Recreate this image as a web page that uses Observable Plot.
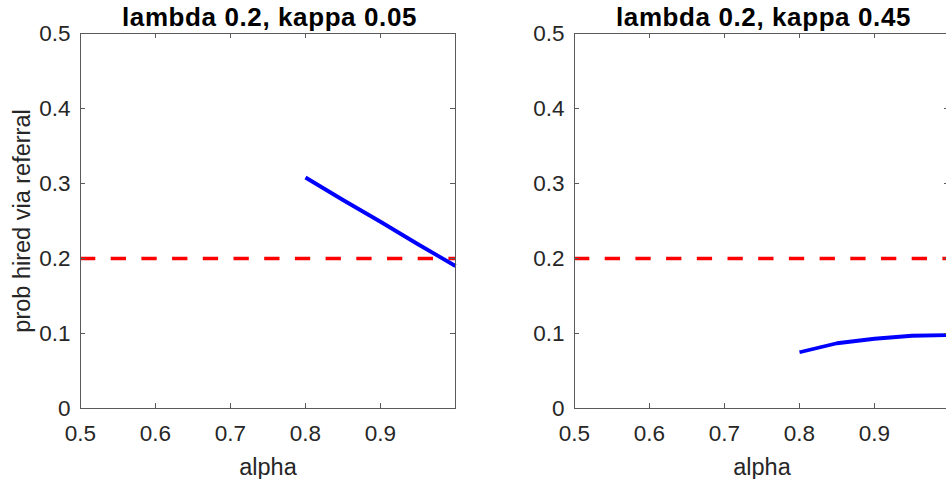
<!DOCTYPE html>
<html>
<head>
<meta charset="utf-8">
<script src="https://cdn.jsdelivr.net/npm/d3@7"></script>
<script src="https://cdn.jsdelivr.net/npm/@observablehq/plot@0.6"></script>
<style>
  html, body { margin: 0; padding: 0; background: #ffffff; overflow: hidden; }
  #wrap { position: relative; width: 946px; height: 479px; overflow: hidden; background: #ffffff; }
  #wrap svg { position: absolute; top: 0; }
</style>
</head>
<body>
<div id="wrap"></div>
<script>
// ---- data ----
const alphaLeft  = [0.8, 0.85, 0.9, 0.95, 1.0];
const probLeft   = [0.308, 0.278, 0.249, 0.219, 0.190];
const alphaRight = [0.8, 0.85, 0.9, 0.95, 1.0];
const probRight  = [0.075, 0.087, 0.093, 0.097, 0.098];
const lambdaRef  = 0.2;
const titles     = ["lambda 0.2, kappa 0.05", "lambda 0.2, kappa 0.45"];
const xTicks     = [0.5, 0.6, 0.7, 0.8, 0.9];
const yTicks     = [0, 0.1, 0.2, 0.3, 0.4, 0.5];
const xDomain    = [0.5, 1];
const yDomain    = [0, 0.5];
const xLabel     = "alpha";
const yLabel     = "prob hired via referral";

const FONT = "'Liberation Sans', Arial, Helvetica, sans-serif";
const AXC = "#5a5a5a";
const TXT = "#262626";
const fmt = d3.format("~g");

function panel({alpha, prob, title, showYLabel, left, width, marginLeft, marginRight}) {
  const data = alpha.map((a, i) => ({alpha: a, prob: prob[i]}));
  const H = 479, mt = 33, mb = 71;
  const fw = width - marginLeft - marginRight;
  const fh = H - mt - mb;
  const tick = 5;
  const marks = [
    Plot.ruleY([lambdaRef], {y: d => d, stroke: "#ff0000", strokeWidth: 3.6, strokeDasharray: "15.3,15.4"}),
    Plot.line(data, {x: "alpha", y: "prob", stroke: "#0000ff", strokeWidth: 3.8, strokeLinecap: "butt"}),
    Plot.frame({stroke: AXC, strokeWidth: 1}),
    Plot.tickX(xTicks, {x: d => d, insetTop: fh - tick, stroke: AXC}),
    Plot.tickX(xTicks, {x: d => d, insetBottom: fh - tick, stroke: AXC}),
    Plot.tickY(yTicks, {y: d => d, insetRight: fw - tick, stroke: AXC}),
    Plot.tickY(yTicks, {y: d => d, insetLeft: fw - tick, stroke: AXC}),
    Plot.axisX(xTicks, {tickSize: 0, tickPadding: 17, fontSize: 22.5, color: TXT, label: null, tickFormat: fmt}),
    Plot.axisY(yTicks, {tickSize: 0, tickPadding: 10, fontSize: 22.5, color: TXT, label: null, tickFormat: fmt}),
    Plot.text([xLabel], {text: d => d, frameAnchor: "bottom", textAnchor: "middle", dy: 66, lineAnchor: "bottom", fontSize: 23.5, fill: TXT}),
    Plot.text([title], {text: d => d, frameAnchor: "top", textAnchor: "middle", dx: 1.5, dy: -8, lineAnchor: "bottom", fontSize: 26, fontWeight: "bold", fill: "#000000"})
  ];
  if (showYLabel) {
    marks.push(Plot.text([yLabel], {text: d => d, frameAnchor: "left", textAnchor: "middle", dx: -51, rotate: -90, lineAnchor: "bottom", fontSize: 23.5, fill: TXT}));
  }
  const svg = Plot.plot({
    width, height: H,
    marginLeft, marginRight, marginTop: mt, marginBottom: mb,
    style: {fontFamily: FONT, background: "transparent", overflow: "visible"},
    x: {domain: xDomain},
    y: {domain: yDomain},
    marks
  });
  svg.style.left = left + "px";
  d3.select(svg).selectAll("text")
    .filter(function() { return this.textContent === title; })
    .style("letter-spacing", "0.6px");
  document.getElementById("wrap").appendChild(svg);
}

panel({alpha: alphaLeft, prob: probLeft, title: titles[0], showYLabel: true,
       left: 0, width: 470, marginLeft: 80, marginRight: 15});
panel({alpha: alphaRight, prob: probRight, title: titles[1], showYLabel: false,
       left: 480, width: 480, marginLeft: 94, marginRight: 11});
</script>
</body>
</html>
